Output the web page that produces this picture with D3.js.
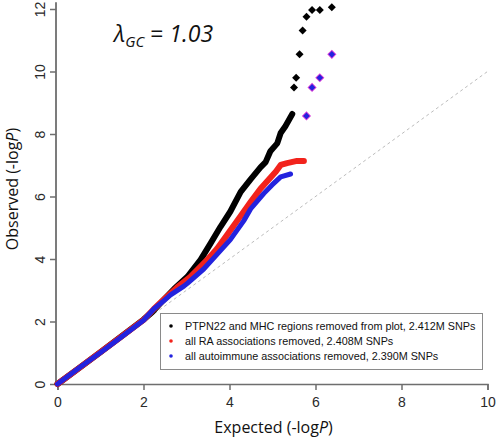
<!DOCTYPE html>
<html>
<head>
<meta charset="utf-8">
<script src="https://cdn.jsdelivr.net/npm/d3@7"></script>
<style>
  html, body { margin: 0; padding: 0; background: #fff; }
  svg { display: block; }
</style>
</head>
<body>
<svg id="chart" width="498" height="437"></svg>
<script>
// ---- data (expected -logP, observed -logP) ----
const blackCurve = [
  [0,0],[0.5,0.51],[1.0,1.02],[1.5,1.54],[2.0,2.06],[2.2,2.30],[2.43,2.64],[2.71,3.04],
  [3.02,3.43],[3.33,3.98],[3.56,4.50],[3.79,5.03],[4.02,5.52],[4.26,6.15],[4.49,6.55],
  [4.72,6.93],[4.84,7.10],[4.95,7.45],[5.11,7.70],[5.19,8.03],[5.30,8.25],[5.46,8.64]
];
const blackTop = [
  [5.50,9.49],[5.55,9.80],[5.63,10.55],[5.70,11.31],[5.79,11.75],[5.92,11.97],[6.10,11.97],[6.38,12.06]
];
const redCurve = [
  [0,0],[0.5,0.51],[1.0,1.02],[1.5,1.53],[2.0,2.05],[2.24,2.40],[2.5,2.74],[2.78,3.09],
  [3.09,3.43],[3.48,3.97],[3.71,4.33],[3.95,4.78],[4.26,5.38],[4.49,5.82],[4.72,6.25],
  [4.95,6.60],[5.08,6.80],[5.19,7.01],[5.34,7.07],[5.57,7.14],[5.73,7.14]
];
const redTop = [[5.79,8.58],[5.92,9.49],[6.10,9.80],[6.38,10.55]];
const blueCurve = [
  [0,0],[0.5,0.51],[1.0,1.01],[1.5,1.52],[2.0,2.04],[2.24,2.40],[2.47,2.66],[2.63,2.85],
  [2.94,3.13],[3.02,3.22],[3.40,3.68],[3.71,4.15],[4.02,4.62],[4.33,5.22],[4.49,5.60],
  [4.80,6.10],[4.99,6.37],[5.19,6.63],[5.42,6.72]
];
const blueTop = [[5.79,8.58],[5.92,9.49],[6.10,9.80],[6.38,10.55]];

const xTicks = [0, 2, 4, 6, 8, 10];
const yTicks = [0, 2, 4, 6, 8, 10, 12];
const diagonal = [[0,0],[10,10]];
const legendLabels = [
  "PTPN22 and MHC regions removed from plot, 2.412M SNPs",
  "all RA associations removed, 2.408M SNPs",
  "all autoimmune associations removed, 2.390M SNPs"
];
const seriesColors = ["#000000", "#f2231c", "#2323de"];
const lambdaValue = "1.03";

// ---- drawing ----
const svg = d3.select("#chart");
const x = d3.scaleLinear().domain([0, 10]).range([57.5, 487.5]);
const y = d3.scaleLinear().domain([0, 12]).range([384, 9]);

const axisColor = "#6e6e6e";

// diagonal reference
svg.append("path")
  .datum(diagonal)
  .attr("d", d3.line().x(d => x(d[0])).y(d => y(d[1])))
  .attr("fill", "none")
  .attr("stroke", "#bcbcbc")
  .attr("stroke-width", 1)
  .attr("stroke-dasharray", "3,3");

// x axis
const gx = svg.append("g").attr("transform", `translate(0,${y(0)})`)
  .call(d3.axisBottom(x).tickValues(xTicks).tickSize(6).tickPadding(4).tickFormat(d3.format("d")));
gx.select(".domain").attr("stroke", axisColor).attr("stroke-width", 1.5);
gx.selectAll(".tick line").attr("stroke", axisColor).attr("stroke-width", 1.5);
gx.selectAll(".tick text").attr("font-family", "Liberation Sans, Arial, sans-serif")
  .attr("font-size", 14).attr("fill", "#2a2a2a").attr("dy", null).attr("y", 23);

// y axis
const gy = svg.append("g").attr("transform", `translate(${x(0) - 1.5},0)`)
  .call(d3.axisLeft(y).tickValues(yTicks).tickSize(6).tickFormat(d3.format("d")));
gy.select(".domain").remove();
gy.append("line").attr("x1", 0).attr("x2", 0).attr("y1", y(0)).attr("y2", y(12.22))
  .attr("stroke", axisColor).attr("stroke-width", 1.8);
gy.selectAll(".tick line").attr("stroke", axisColor).attr("stroke-width", 1.5);
gy.selectAll(".tick text")
  .attr("font-family", "Liberation Sans, Arial, sans-serif")
  .attr("font-size", 14).attr("fill", "#2a2a2a")
  .attr("x", null).attr("dy", null).attr("text-anchor", "middle")
  .attr("transform", "translate(-11,0) rotate(-90)");

// curves
const line = d3.line().x(d => x(d[0])).y(d => y(d[1])).curve(d3.curveLinear);
const curves = [blackCurve, redCurve, blueCurve];
curves.forEach((c, i) => {
  svg.append("path").datum(c)
    .attr("d", line)
    .attr("fill", "none")
    .attr("stroke", seriesColors[i])
    .attr("stroke-width", i === 2 ? 5 : 6)
    .attr("stroke-linejoin", "round")
    .attr("stroke-linecap", "round");
});

// diamonds
const diamond = s => d3.symbol(d3.symbolSquare, s)();
svg.append("g").selectAll("path").data(blackTop).join("path")
  .attr("d", diamond(32))
  .attr("transform", d => `translate(${x(d[0])},${y(d[1])}) rotate(45)`)
  .attr("fill", seriesColors[0]);
svg.append("g").selectAll("path").data(redTop).join("path")
  .attr("d", diamond(42))
  .attr("transform", d => `translate(${x(d[0])},${y(d[1])}) rotate(45)`)
  .attr("fill", "#d83ad8");
svg.append("g").selectAll("path").data(blueTop).join("path")
  .attr("d", diamond(22))
  .attr("transform", d => `translate(${x(d[0])},${y(d[1])}) rotate(45)`)
  .attr("fill", seriesColors[2]);

// lambda annotation
const lam = svg.append("text")
  .attr("x", 114).attr("y", 42)
  .attr("font-family", "Open Sans, sans-serif")
  .attr("font-size", 23).attr("fill", "#111");
lam.append("tspan").attr("font-style", "italic").text("λ");
lam.append("tspan").attr("font-style", "italic").attr("font-size", 15).attr("dy", 5).text("GC");
lam.append("tspan").attr("dy", -5).text(" = ");
lam.append("tspan").attr("font-style", "italic").text(lambdaValue);

// axis titles
const xt = svg.append("text")
  .attr("x", x(5) + 1).attr("y", 433).attr("text-anchor", "middle")
  .attr("font-family", "Open Sans, sans-serif").attr("font-size", 16).attr("fill", "#111");
xt.append("tspan").text("Expected (-log");
xt.append("tspan").attr("font-style", "italic").text("P");
xt.append("tspan").text(")");

const yt = svg.append("text")
  .attr("transform", "translate(18,189) rotate(-90)").attr("text-anchor", "middle")
  .attr("font-family", "Open Sans, sans-serif").attr("font-size", 16).attr("fill", "#111");
yt.append("tspan").text("Observed (-log");
yt.append("tspan").attr("font-style", "italic").text("P");
yt.append("tspan").text(")");

// legend
const lg = svg.append("g");
lg.append("rect").attr("x", 160.5).attr("y", 313.5).attr("width", 322).attr("height", 56)
  .attr("fill", "#fff").attr("stroke", "#8a8a8a").attr("stroke-width", 1);
legendLabels.forEach((t, i) => {
  const cy = 326 + i * 15;
  lg.append("circle").attr("cx", 171).attr("cy", cy).attr("r", 1.8).attr("fill", seriesColors[i]);
  lg.append("text").attr("x", 185).attr("y", cy + 4)
    .attr("font-family", "Liberation Sans, Arial, sans-serif").attr("font-size", 10.8)
    .attr("fill", "#111").text(t);
});
</script>
</body>
</html>
